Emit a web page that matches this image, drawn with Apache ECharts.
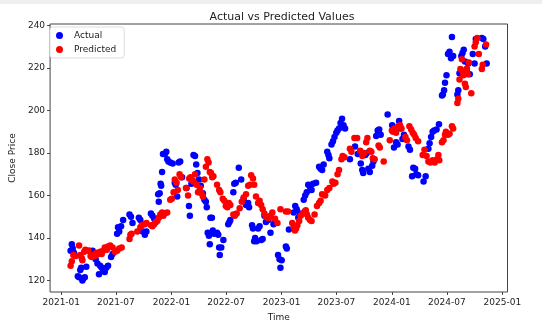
<!DOCTYPE html>
<html>
<head>
<meta charset="utf-8">
<script src="https://cdn.jsdelivr.net/npm/echarts@6/dist/echarts.min.js"></script>
<style>html,body{margin:0;padding:0;background:#fff}#c{width:542px;height:327px}</style>
</head>
<body>
<div id="c"></div>
<script>
const titleText = 'Actual vs Predicted Values';
const xName = 'Time';
const yName = 'Close Price';
const seriesNames = ['Actual', 'Predicted'];
const xTickLabels = ['2021-01','2021-07','2022-01','2022-07','2023-01','2023-07','2024-01','2024-07','2025-01'];
const yTickValues = [120,140,160,180,200,220,240];

const actualDates = [
'2021-02-01','2021-02-05','2021-02-08','2021-02-12','2021-02-25','2021-03-01','2021-03-05','2021-03-08','2021-03-12','2021-03-15','2021-03-20','2021-03-25',
'2021-04-05','2021-04-10','2021-04-15','2021-04-20','2021-04-25','2021-05-01','2021-05-06','2021-05-10','2021-05-15','2021-05-20','2021-05-25','2021-05-30','2021-06-05',
'2021-06-15','2021-06-20','2021-07-05','2021-07-08','2021-07-12','2021-07-18','2021-07-25','2021-08-15','2021-08-20','2021-08-25',
'2021-09-15','2021-09-20','2021-09-28','2021-10-05','2021-10-10','2021-10-25','2021-10-30','2021-11-05','2021-11-10','2021-11-14',
'2021-11-18','2021-11-20','2021-11-23','2021-11-26','2021-11-28','2021-12-01','2021-12-04','2021-12-10','2021-12-15','2021-12-18','2021-12-22','2021-12-28','2022-01-05',
'2022-01-12','2022-01-15','2022-01-20','2022-01-25','2022-01-30','2022-02-05','2022-02-20','2022-02-28','2022-03-03','2022-03-08','2022-03-12',
'2022-03-15','2022-03-20','2022-03-24','2022-03-28','2022-04-02','2022-04-08','2022-04-15','2022-04-20','2022-04-25','2022-04-28','2022-05-01','2022-05-05','2022-05-08',
'2022-05-10','2022-05-15','2022-05-18','2022-05-22','2022-06-01','2022-06-05','2022-06-08','2022-06-10','2022-06-15','2022-06-22',
'2022-07-08','2022-07-12','2022-07-15','2022-07-25','2022-07-28','2022-08-02','2022-08-12','2022-08-20','2022-08-28','2022-09-05','2022-09-12','2022-09-15',
'2022-09-25','2022-09-28','2022-10-02','2022-10-05','2022-10-10','2022-10-15','2022-10-20','2022-10-25','2022-10-30','2022-11-05',
'2022-11-10','2022-11-18','2022-11-25','2022-12-05','2022-12-10','2022-12-20','2022-12-25','2022-12-28','2023-01-01','2023-01-15','2023-01-18','2023-01-25',
'2023-02-10','2023-02-15','2023-02-20','2023-02-25','2023-03-02','2023-03-15','2023-03-20','2023-03-25','2023-03-30','2023-04-05','2023-04-10',
'2023-04-15','2023-04-25','2023-05-05','2023-05-10','2023-05-15','2023-05-20','2023-06-01','2023-06-05','2023-06-08','2023-06-15','2023-06-20','2023-06-25',
'2023-07-01','2023-07-05','2023-07-10','2023-07-15','2023-07-20','2023-07-25','2023-07-30','2023-08-15','2023-09-01','2023-09-10',
'2023-09-20','2023-09-25','2023-09-28','2023-10-05','2023-10-10','2023-10-15','2023-10-20','2023-10-28','2023-11-01','2023-11-10','2023-11-15','2023-11-20','2023-11-25',
'2023-12-18','2024-01-02','2024-01-08','2024-01-15','2024-01-20','2024-01-25','2024-01-30','2024-02-05','2024-02-10','2024-02-25','2024-03-01',
'2024-03-08','2024-03-12','2024-03-18','2024-03-22','2024-03-28','2024-04-15','2024-04-22','2024-05-01','2024-05-05','2024-05-10','2024-05-15',
'2024-05-20','2024-05-28','2024-06-05','2024-06-15','2024-06-18','2024-06-22','2024-06-25','2024-06-30','2024-07-05','2024-07-10','2024-07-15','2024-07-18','2024-07-22',
'2024-08-05','2024-08-08','2024-08-12','2024-08-18','2024-08-22','2024-08-26','2024-08-30','2024-09-05','2024-09-10','2024-09-15','2024-09-25','2024-10-01','2024-10-05',
'2024-10-25','2024-10-30','2024-11-05','2024-11-10'
];
const actualValues = [
134,137,135,133,122,121.5,125,126,120,121,121.5,126.5,
134,133,134,132,130,128,123,127,126,125,124,126,127,
131,132.5,142,145,143,145.5,148.5,151,150,147,
149.5,148.5,143,141.5,143,151.5,150.5,149,147.5,149,
160.5,157,161,165.5,164.5,171,179.5,179.5,180.5,177,176,175.5,175,
166,165,159.5,175.5,176,168.5,163.5,155,150.5,165.5,167,
179,178.5,174.5,170.5,167.5,164.5,161,158,157,154.5,142.5,141,137,
149.5,149.5,143.5,142,142.5,141.5,135.5,132,135.5,139,
146.5,147.5,148.5,161.5,165.5,166,173,167.5,158.5,155.5,156.5,154.5,
146,144.5,138.5,140,138.5,144.5,145.5,139,139.5,150.5,
147.5,148.5,142.5,146.5,148,132,130,126,129.5,136,135,144,
152,155,153.5,149.5,151.5,158,160,161.5,165,164,162.5,
165.5,166,173.5,172.5,172,174.5,180.5,179,177.5,184,185.5,187.5,
189.5,190.5,191.5,194,196,193,191.5,177,183,179.5,
175,172,170.5,179,180,172.5,171,174,176,188,190.5,191,188.5,
198,193,182.5,185,184,195,191.5,186.5,188.5,183,181.5,
169,173,172.5,170,169.5,166.5,169,182,184.5,187.5,190,
190.5,191,193.5,207,207.5,209.5,213,216.5,226.5,227.5,224.5,234.5,225.5,
207.5,209.5,217.5,225.5,227,228.5,223,219.5,222,217,226.5,222,233.5,
234,233.5,230,222
];

const predictedDates = [
'2021-02-01','2021-02-05','2021-02-10','2021-02-18','2021-03-01','2021-03-05','2021-03-10','2021-03-12','2021-03-18','2021-03-22','2021-04-01',
'2021-04-08','2021-04-12','2021-04-18','2021-04-22','2021-04-28','2021-05-05','2021-05-10','2021-05-15','2021-05-20',
'2021-05-25','2021-06-01','2021-06-05','2021-06-12','2021-06-20','2021-06-28','2021-07-05','2021-07-12','2021-07-20',
'2021-08-15','2021-08-18','2021-08-22','2021-09-10','2021-09-20','2021-09-25','2021-10-05','2021-10-10',
'2021-10-25','2021-10-30','2021-11-05','2021-11-10','2021-11-15','2021-11-20','2021-11-25','2021-12-01',
'2021-12-05','2021-12-10','2021-12-18','2021-12-28','2022-01-02','2022-01-08','2022-01-12','2022-01-18','2022-01-22','2022-01-28','2022-02-02',
'2022-02-18','2022-02-25','2022-03-01','2022-03-05','2022-03-10','2022-03-15','2022-03-20','2022-03-25','2022-03-30',
'2022-04-05','2022-04-10','2022-04-15','2022-04-20','2022-04-25','2022-04-30','2022-05-04','2022-05-08',
'2022-05-12','2022-05-16','2022-05-20','2022-06-01','2022-06-08','2022-06-12','2022-06-20','2022-06-25','2022-06-30','2022-07-05','2022-07-10','2022-07-15',
'2022-07-25','2022-07-30','2022-08-05','2022-08-15','2022-08-22','2022-08-28','2022-09-05','2022-09-12','2022-09-18','2022-09-22','2022-09-28','2022-10-02',
'2022-10-08','2022-10-15','2022-10-20','2022-10-25','2022-10-30','2022-11-05','2022-11-10','2022-11-15',
'2022-11-20','2022-11-25','2022-12-01','2022-12-10','2022-12-18','2022-12-28','2023-01-15','2023-01-22',
'2023-02-05','2023-02-10','2023-02-14','2023-02-18','2023-02-22','2023-02-28','2023-03-05','2023-03-12',
'2023-03-18','2023-03-22','2023-03-26','2023-03-30','2023-04-05','2023-04-10','2023-04-20',
'2023-04-28','2023-05-05','2023-05-10','2023-05-15','2023-05-25','2023-06-01','2023-06-08',
'2023-06-18','2023-06-22','2023-06-28','2023-07-05','2023-07-10','2023-07-18','2023-07-22','2023-07-28',
'2023-08-15','2023-08-20','2023-08-30','2023-09-08','2023-09-18','2023-09-25','2023-10-01',
'2023-10-08','2023-10-12','2023-10-20','2023-10-25','2023-10-30','2023-11-05','2023-11-18','2023-11-22','2023-12-05',
'2023-12-25','2024-01-01','2024-01-05','2024-01-10','2024-01-15','2024-01-22','2024-01-28','2024-02-02',
'2024-02-15','2024-02-20','2024-02-28','2024-03-05','2024-03-10','2024-03-15','2024-03-20','2024-03-28',
'2024-04-12','2024-04-18','2024-04-25','2024-05-01','2024-05-08','2024-05-15','2024-05-22','2024-05-30','2024-06-03','2024-06-06',
'2024-06-15','2024-06-20','2024-06-25','2024-06-28','2024-07-05','2024-07-10','2024-07-18','2024-07-22',
'2024-08-05','2024-08-08','2024-08-12','2024-08-15','2024-08-20','2024-08-22','2024-08-25','2024-08-30','2024-09-02','2024-09-05','2024-09-08','2024-09-12','2024-09-20',
'2024-10-01','2024-10-05','2024-10-10','2024-10-15','2024-10-25','2024-10-28','2024-11-08'
];
const predictedValues = [
127,129,132,131.5,136.5,132,130.5,129.5,133.5,134.5,134,
131.5,131,132,131.5,133,132.5,133.5,132.5,134,
135.5,134.5,136,136.5,135.5,133.5,134,135,135.5,
139.5,141.5,142,143,145,146,146.5,147,
146,145.5,146.5,147.5,148,149.5,151,152,
150.5,151.5,152,158,158.5,161.5,167.5,166,162.5,170,168.5,
163.5,160,168,168.5,167,166.5,170,165,161.5,
163.5,161,159.5,167.5,173.5,177,175.5,171,
170.5,168.5,169,165,162.5,161.5,158.5,157.5,155,154.5,156.5,155.5,
151,150.5,151.5,154,157,159,160.5,164.5,165,169.5,168,165,
159.5,156.5,157.5,155.5,153.5,151.5,150,149.5,
149.5,150.5,152,149,147,153.5,152.5,152.5,
147,145,143.5,144.5,146,148,150.5,151.5,
152.5,153,151,149.5,148.5,148,151,
155,156.5,157.5,160.5,160,162.5,163.5,
166.5,165.5,166,170,172,177,178.5,178,
182,180.5,187,187,181,178.5,180,
185,187,181,180.5,177.5,177,183.5,182.5,176,
186,190.5,190,191.5,189.5,192.5,193,191.5,
187.5,186,192.5,191,189.5,188.5,187,185.5,
179,181.5,178.5,176,175.5,176.5,175.5,177,179,176.5,
185,186,188.5,190,188.5,189,192.5,191.5,
203.5,205.5,214.5,219.5,224,218.5,216.5,212.5,211,219.5,217,222.5,208,
230,232,234,226.5,219.5,221.5,231
];

function toTs(s) {
  const p = s.split('-').map(Number);
  return Date.UTC(p[0], p[1] - 1, p[2] || 1);
}
function pairs(dates, vals) { return dates.map((d, i) => [toTs(d), vals[i]]); }
const tickTs = xTickLabels.map(toTs);
const tickMap = {};
tickTs.forEach((t, i) => { tickMap[t] = xTickLabels[i]; });

const FONT = 'DejaVu Sans';
const chart = echarts.init(document.getElementById('c'), null, {renderer: 'canvas'});
chart.setOption({
  animation: false,
  backgroundColor: '#fff',
  textStyle: {fontFamily: FONT},
  graphic: [{type: 'rect', shape: {x: 0, y: 0, width: 542, height: 4}, style: {fill: '#eeeeee'}, silent: true}],
  title: {
    text: titleText, left: 277, top: 7, textAlign: 'center',
    textStyle: {fontFamily: FONT, fontSize: 11, fontWeight: 'normal', color: '#222'}
  },
  legend: {
    orient: 'vertical', left: 50, top: 27,
    data: seriesNames,
    icon: 'circle', itemWidth: 7, itemHeight: 7, itemGap: 5,
    backgroundColor: '#fff', borderColor: '#ddd', borderWidth: 1, borderRadius: 3,
    padding: [4, 8, 4, 6],
    textStyle: {fontFamily: FONT, fontSize: 9, color: '#222', padding: [0, 0, 0, 6]}
  },
  grid: {left: 47.3, right: 34.5, top: 24, bottom: 30.3, show: true, borderColor: '#444', borderWidth: 1, backgroundColor: 'transparent'},
  xAxis: {
    type: 'value',
    min: toTs('2020-11-25'), max: toTs('2025-01-18'),
    name: xName, nameLocation: 'middle', nameGap: 21,
    nameTextStyle: {fontFamily: FONT, fontSize: 9, color: '#222'},
    axisLine: {show: false},
    splitLine: {show: false},
    axisTick: {show: true, customValues: tickTs, length: 3, lineStyle: {color: '#444'}},
    axisLabel: {
      customValues: tickTs, fontFamily: FONT, fontSize: 9, color: '#222', margin: 6,
      formatter: v => tickMap[v] || ''
    }
  },
  yAxis: {
    type: 'value', min: 114.6, max: 240.6,
    name: yName, nameLocation: 'middle', nameGap: 29, nameRotate: 90,
    nameTextStyle: {fontFamily: FONT, fontSize: 9, color: '#222'},
    axisLine: {show: false},
    splitLine: {show: false},
    axisTick: {show: true, customValues: yTickValues, length: 3, lineStyle: {color: '#444'}},
    axisLabel: {customValues: yTickValues, fontFamily: FONT, fontSize: 9, color: '#222', margin: 5}
  },
  series: [
    {name: seriesNames[0], type: 'scatter', data: pairs(actualDates, actualValues), symbolSize: 6.5, itemStyle: {color: '#0000ff', opacity: 1}},
    {name: seriesNames[1], type: 'scatter', data: pairs(predictedDates, predictedValues), symbolSize: 6.5, itemStyle: {color: '#ff0000', opacity: 1}}
  ]
});
</script>
</body>
</html>
